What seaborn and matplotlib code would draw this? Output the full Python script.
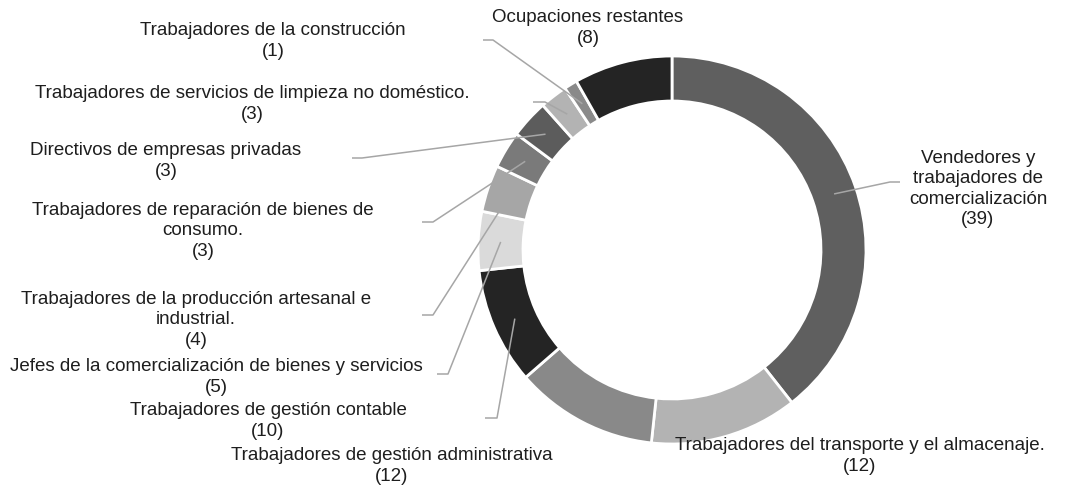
import numpy as np
import matplotlib
matplotlib.use('Agg')
import matplotlib.pyplot as plt
import seaborn as sns

# categories in drawing order (clockwise from 12 o'clock)
categories = [
    "Vendedores y\ntrabajadores de\ncomercialización",
    "Trabajadores del transporte y el almacenaje.",
    "Trabajadores de gestión administrativa",
    "Trabajadores de gestión contable",
    "Jefes de la comercialización de bienes y servicios",
    "Trabajadores de la producción artesanal e\nindustrial.",
    "Trabajadores de reparación de bienes de\nconsumo.",
    "Directivos de empresas privadas",
    "Trabajadores de servicios de limpieza no doméstico.",
    "Trabajadores de la construcción",
    "Ocupaciones restantes",
]
# printed values in the labels
label_values = [39, 12, 12, 10, 5, 4, 3, 3, 3, 1, 8]
# wedge shares as measured on the ring (%)
shares = [39.4, 12.3, 11.9, 9.7, 4.9, 3.9, 3.1, 3.2, 2.3, 1.1, 8.2]
colors = ["#5f5f5f", "#b3b3b3", "#898989", "#242424", "#dadada", "#a6a6a6",
          "#7a7a7a", "#5c5c5c", "#b3b3b3", "#8a8a8a", "#242424"]

# layout (pixels in the 1076x489 canvas)
W, H = 1076, 489
CX, CY, R = 672, 251, 194
label_pos = [(978, 189), (860, 456), (392, 466), (268, 421), (216, 377),
             (196, 320), (203, 231), (166, 161), (252, 104), (273, 41), (588, 28)]
leaders = [((900, 183), (890, 183)), None, None,
           ((485, 419), (497, 419)), ((437, 375), (448, 375)),
           ((422, 316), (433, 316)), ((422, 223), (433, 223)),
           ((352, 159), (362, 159)), ((533, 103), (545, 103)),
           ((483, 41), (493, 41)), None]


def px(p):
    return ((p[0] - CX) / R, (CY - p[1]) / R)


sns.set_theme(style="white")
plt.rcParams['font.family'] = ['Liberation Sans', 'DejaVu Sans']

fig = plt.figure(figsize=(W / 100, H / 100), dpi=100)
ax = fig.add_axes([0, 0, 1, 1])

wedges, _ = ax.pie(shares, colors=colors, startangle=90, counterclock=False,
                   radius=1, wedgeprops=dict(width=0.232, edgecolor="white", linewidth=2))

for w, cat, val, pos, ld in zip(wedges, categories, label_values, label_pos, leaders):
    tx, ty = px(pos)
    ax.text(tx, ty, f"{cat}\n({val})", ha="center", va="center", ma="center",
            fontsize=13.5, color="#1e1e1e", linespacing=1.28)
    if ld is not None:
        mid = np.deg2rad((w.theta1 + w.theta2) / 2)
        tip = (0.884 * np.cos(mid), 0.884 * np.sin(mid))
        a, b = px(ld[0]), px(ld[1])
        ax.plot([a[0], b[0], tip[0]], [a[1], b[1], tip[1]], color="#a6a6a6", lw=1.1,
                solid_capstyle="butt")

ax.set_aspect("auto")
ax.set_xlim(-CX / R, (W - CX) / R)
ax.set_ylim(-(H - CY) / R, CY / R)
ax.axis("off")

fig.savefig("out.png", dpi=100, facecolor="white")
